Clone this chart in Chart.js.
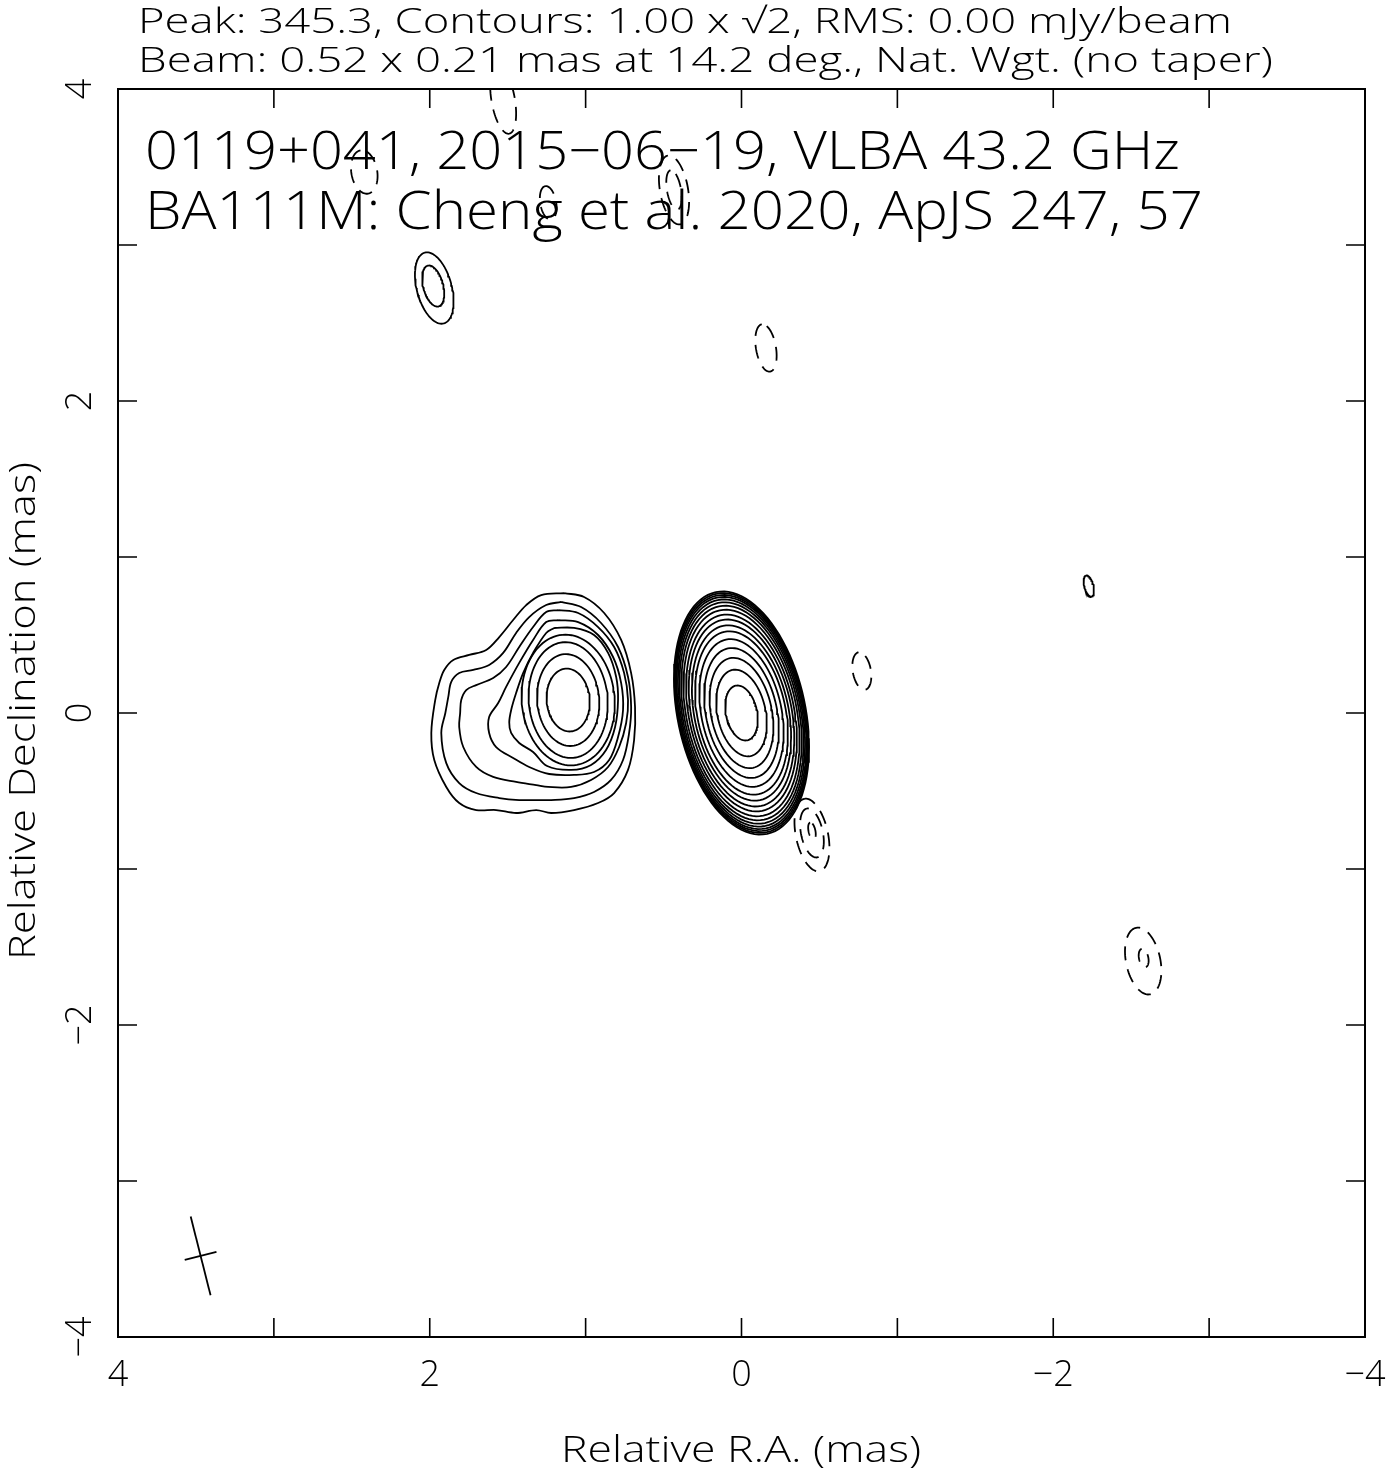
<!DOCTYPE html>
<html>
<head>
<meta charset="utf-8">
<script src="https://cdn.jsdelivr.net/npm/chart.js@4.4.1/dist/chart.umd.min.js"></script>
<style>
  html, body { margin: 0; padding: 0; background: #fff; }
  canvas { display: block; }
</style>
</head>
<body>
<canvas id="map" width="1394" height="1472"></canvas>
<script>
// contour levels are 1.00 x sqrt(2)^n mJy/beam, outermost first
// core: nested ellipses (mas)
const coreSemiMajor = [0.792, 0.781, 0.769, 0.756, 0.740, 0.721, 0.699, 0.673, 0.641, 0.609, 0.571, 0.532, 0.481, 0.423, 0.359, 0.282, 0.179];
const coreSemiMinor = [0.410, 0.405, 0.400, 0.394, 0.386, 0.377, 0.366, 0.353, 0.337, 0.321, 0.302, 0.283, 0.257, 0.228, 0.195, 0.155, 0.100];
const coreCenter = [0.0, 0.0];
const corePA = 12;

// knot: inner contours are ellipses
const knotSemiMajor = [0.420, 0.372, 0.295, 0.202];
const knotSemiMinor = [0.298, 0.253, 0.199, 0.138];
const knotCenter = [1.112, 0.083];
const knotPA = 5;

// knot: outer contours, traced vertices [RA, Dec] in mas
const knotC9 = [[1.138,0.769],[1.285,0.756],[1.381,0.692],[1.465,0.596],[1.554,0.487],[1.638,0.404],[1.747,0.372],[1.849,0.340],[1.907,0.276],[1.939,0.192],[1.965,0.083],[1.990,-0.128],[1.971,-0.301],[1.894,-0.474],[1.811,-0.577],[1.702,-0.622],[1.574,-0.622],[1.446,-0.641],[1.317,-0.622],[1.221,-0.641],[1.074,-0.622],[0.920,-0.577],[0.817,-0.513],[0.728,-0.365],[0.689,-0.173],[0.683,0.038],[0.708,0.256],[0.772,0.468],[0.881,0.641],[1.010,0.744]];
const knotC8 = [[1.157,0.712],[1.253,0.692],[1.362,0.615],[1.446,0.513],[1.529,0.385],[1.619,0.308],[1.721,0.276],[1.811,0.256],[1.862,0.199],[1.881,0.103],[1.900,0.000],[1.926,-0.128],[1.894,-0.321],[1.811,-0.449],[1.702,-0.513],[1.554,-0.545],[1.426,-0.558],[1.317,-0.558],[1.221,-0.558],[1.074,-0.545],[0.946,-0.506],[0.837,-0.429],[0.760,-0.301],[0.721,-0.128],[0.708,0.038],[0.728,0.231],[0.792,0.423],[0.901,0.577],[1.029,0.679]];
const knotC7 = [[1.176,0.660],[1.253,0.647],[1.337,0.551],[1.426,0.423],[1.510,0.295],[1.593,0.224],[1.702,0.179],[1.766,0.147],[1.798,0.083],[1.805,0.000],[1.811,-0.090],[1.785,-0.218],[1.702,-0.346],[1.593,-0.410],[1.446,-0.442],[1.317,-0.462],[1.240,-0.474],[1.093,-0.474],[0.965,-0.429],[0.856,-0.346],[0.785,-0.218],[0.740,-0.064],[0.728,0.083],[0.753,0.256],[0.817,0.423],[0.920,0.551],[1.048,0.641]];
const knotC6 = [[1.176,0.596],[1.253,0.583],[1.337,0.468],[1.426,0.321],[1.510,0.167],[1.561,0.064],[1.619,-0.026],[1.619,-0.128],[1.574,-0.218],[1.465,-0.288],[1.362,-0.346],[1.234,-0.391],[1.074,-0.397],[0.946,-0.378],[0.849,-0.301],[0.792,-0.154],[0.760,0.019],[0.772,0.192],[0.824,0.359],[0.920,0.500],[1.048,0.583]];
const knotC5 = [[1.202,0.545],[1.253,0.513],[1.337,0.385],[1.401,0.256],[1.446,0.128],[1.475,0.030],[1.490,-0.060],[1.478,-0.128],[1.426,-0.192],[1.337,-0.250],[1.247,-0.340],[1.093,-0.365],[0.965,-0.333],[0.869,-0.237],[0.811,-0.090],[0.792,0.083],[0.804,0.231],[0.856,0.385],[0.946,0.500],[1.074,0.545]];

// small isolated contours (negative ones are dashed)
const blobX   = [1.971, 1.978, -2.228, -0.452, -0.452, -0.452, -2.577, -2.580, -0.157, -0.772, 2.420, 1.529, 1.240, 0.433, 0.433];
const blobY   = [2.724, 2.737, 0.814, -0.782, -0.769, -0.756, -1.590, -1.571, 2.340, 0.269, 3.468, 3.930, 3.270, 3.353, 3.353];
const blobA   = [0.235, 0.135, 0.070, 0.237, 0.160, 0.055, 0.218, 0.060, 0.154, 0.122, 0.141, 0.220, 0.109, 0.224, 0.128];
const blobB   = [0.112, 0.064, 0.029, 0.103, 0.070, 0.022, 0.110, 0.030, 0.064, 0.058, 0.083, 0.075, 0.051, 0.090, 0.045];
const blobPA  = [15, 15, 15, 12, 12, 12, 12, 12, 10, 10, 10, 10, 10, 10, 10];
const blobNeg = [false, false, false, true, true, true, true, true, true, true, true, true, true, true, true];

// restoring beam: major, minor (mas), PA (deg), drawn at
const beamSize = [0.52, 0.21, 14.2];
const beamPos = [3.47, -3.48];

const axisTicks = [-3, -2, -1, 0, 1, 2, 3];
const tickLabels = [4, 2, 0, -2, -4];

const FONT = '"Open Sans", "DejaVu Sans", sans-serif';

function ellipse(cx, cy, a, b, pa) {
    const t = pa * Math.PI / 180;
    const pts = [];
    for (let i = 0; i <= 96; i++) {
        const u = i / 96 * 2 * Math.PI;
        const ma = a * Math.cos(u), mi = b * Math.sin(u);
        pts.push({ x: cx + ma * Math.sin(t) + mi * Math.cos(t), y: cy + ma * Math.cos(t) - mi * Math.sin(t) });
    }
    return pts;
}

function contour(data, dashed, tension) {
    return {
        data: data,
        showLine: true,
        pointRadius: 0,
        borderColor: '#000',
        borderWidth: 1.8,
        borderDash: dashed ? [14, 9] : [],
        tension: tension || 0,
        fill: false
    };
}

const datasets = [];
coreSemiMajor.forEach((a, i) => {
    datasets.push(contour(ellipse(coreCenter[0], coreCenter[1], a, coreSemiMinor[i], corePA)));
});
knotSemiMajor.forEach((a, i) => {
    datasets.push(contour(ellipse(knotCenter[0], knotCenter[1], a, knotSemiMinor[i], knotPA)));
});
[knotC5, knotC6, knotC7, knotC8, knotC9].forEach((c) => {
    const pts = c.map((p) => ({ x: p[0], y: p[1] }));
    pts.push(pts[0]);
    datasets.push(contour(pts, false, 0.35));
});
blobX.forEach((x, i) => {
    datasets.push(contour(ellipse(x, blobY[i], blobA[i], blobB[i], blobPA[i]), blobNeg[i]));
});

// beam cross
const bpa = beamSize[2] * Math.PI / 180;
const hMaj = beamSize[0] / 2, hMin = beamSize[1] / 2;
datasets.push(contour([
    { x: beamPos[0] + hMaj * Math.sin(bpa), y: beamPos[1] + hMaj * Math.cos(bpa) },
    { x: beamPos[0] - hMaj * Math.sin(bpa), y: beamPos[1] - hMaj * Math.cos(bpa) }
]));
datasets.push(contour([
    { x: beamPos[0] + hMin * Math.cos(bpa), y: beamPos[1] - hMin * Math.sin(bpa) },
    { x: beamPos[0] - hMin * Math.cos(bpa), y: beamPos[1] + hMin * Math.sin(bpa) }
]));

function fmt(v) {
    return v < 0 ? '\u2212' + Math.abs(v) : String(v);
}

// draws text with its left end at x; width (optional) stretches it to that length
function text(ctx, str, x, y, size, width, rotate, center) {
    ctx.save();
    ctx.font = `300 ${size}px ${FONT}`;
    ctx.fillStyle = '#000';
    ctx.textAlign = 'left';
    ctx.textBaseline = 'alphabetic';
    let w = ctx.measureText(str).width;
    let sx = 1;
    if (width) {
        sx = width / w;
        w = width;
    }
    ctx.translate(x, y);
    if (rotate) ctx.rotate(-Math.PI / 2);
    ctx.scale(sx, 1);
    ctx.fillText(str, center ? -w / 2 / sx : 0, 0);
    ctx.restore();
}

const framePlugin = {
    id: 'frame',
    afterDraw(chart) {
        const ctx = chart.ctx;
        const area = chart.chartArea;
        const xs = chart.scales.x, ys = chart.scales.y;
        ctx.save();
        ctx.strokeStyle = '#000';
        ctx.lineWidth = 2;
        ctx.strokeRect(area.left, area.top, area.right - area.left, area.bottom - area.top);
        ctx.lineWidth = 1.6;
        const tl = 19;
        ctx.beginPath();
        axisTicks.forEach((v) => {
            const px = xs.getPixelForValue(v);
            ctx.moveTo(px, area.top); ctx.lineTo(px, area.top + tl);
            ctx.moveTo(px, area.bottom); ctx.lineTo(px, area.bottom - tl);
            const py = ys.getPixelForValue(v);
            ctx.moveTo(area.left, py); ctx.lineTo(area.left + tl, py);
            ctx.moveTo(area.right, py); ctx.lineTo(area.right - tl, py);
        });
        ctx.stroke();
        ctx.restore();

        tickLabels.forEach((v) => {
            text(ctx, fmt(v), xs.getPixelForValue(v), 1386, 36, 0, false, true);
            text(ctx, fmt(v), 91, ys.getPixelForValue(v), 36, 0, true, true);
        });

        text(ctx, 'Relative R.A. (mas)', 741, 1462, 36, 360, false, true);
        text(ctx, 'Relative Declination (mas)', 35, 711, 36, 498, true, true);

        text(ctx, 'Peak: 345.3, Contours: 1.00 x \u221A2, RMS: 0.00 mJy/beam', 138, 33, 35, 1094);
        text(ctx, 'Beam: 0.52 x 0.21 mas at 14.2 deg., Nat. Wgt. (no taper)', 138, 72, 35, 1135);

        text(ctx, '0119+041, 2015\u221206\u221219, VLBA 43.2 GHz', 145, 169, 53, 1035);
        text(ctx, 'BA111M: Cheng et al. 2020, ApJS 247, 57', 145, 229, 53, 1058);
    }
};

new Chart(document.getElementById('map').getContext('2d'), {
    type: 'scatter',
    data: { datasets: datasets },
    options: {
        responsive: false,
        animation: false,
        devicePixelRatio: 1,
        layout: { padding: { left: 118, top: 89, right: 29, bottom: 135 } },
        plugins: { legend: { display: false }, tooltip: { enabled: false } },
        scales: {
            x: { type: 'linear', min: -4, max: 4, reverse: true, display: false },
            y: { type: 'linear', min: -4, max: 4, display: false }
        }
    },
    plugins: [framePlugin]
});
</script>
</body>
</html>
